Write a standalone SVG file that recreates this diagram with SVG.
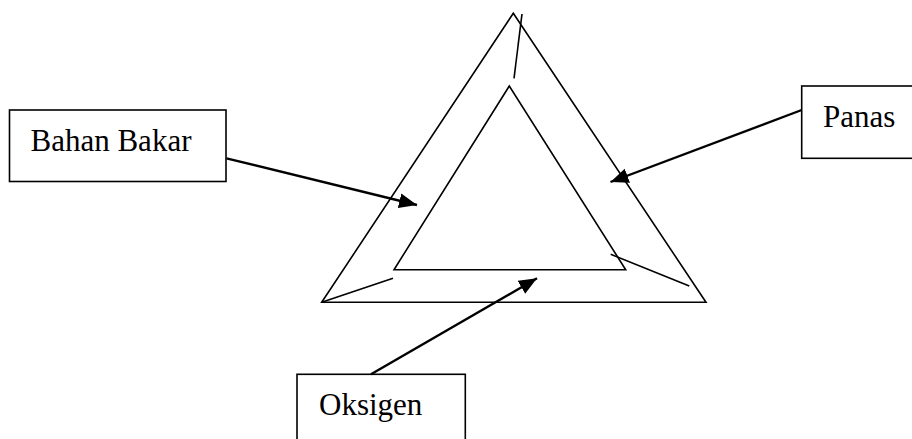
<svg xmlns="http://www.w3.org/2000/svg" width="912" height="439" viewBox="0 0 912 439">
<style>
.box{fill:#fff;stroke:#000;stroke-width:1.6}
.lbl{font-family:"Liberation Serif","Times New Roman",serif;font-size:31px;fill:#000}
.tri{fill:none;stroke:#000;stroke-width:1.6;stroke-linejoin:miter}
.ln{fill:none;stroke:#000;stroke-width:1.6}
.arr{fill:none;stroke:#000;stroke-width:2.4;marker-end:url(#ah)}
</style>
<defs>
<marker id="ah" markerUnits="userSpaceOnUse" markerWidth="19" markerHeight="16" refX="18" refY="7.5" orient="auto">
<path d="M0,0 L18,7.5 L0,15 z" fill="#000"/>
</marker>
</defs>
<rect width="912" height="439" fill="#fff"/>
<g id="triangle">
<polygon class="tri" points="513.3,13.3 321.7,302.3 706,302.3"/>
<polygon class="tri" points="509.3,86 394,269.7 625.7,269.7"/>
<line class="ln" x1="522" y1="14" x2="514" y2="78.3"/>
<line class="ln" x1="321.7" y1="302.3" x2="393" y2="278.3"/>
<line class="ln" x1="610.7" y1="254.3" x2="689.3" y2="286"/>
</g>
<g id="bahan-bakar">
<rect class="box" x="9.5" y="110" width="216.5" height="71.5"/>
<text class="lbl" x="30.5" y="151">Bahan Bakar</text>
</g>
<g id="panas">
<rect class="box" x="801.7" y="86" width="130" height="72.3"/>
<text class="lbl" x="823" y="127">Panas</text>
</g>
<g id="oksigen">
<rect class="box" x="297" y="374.3" width="168.3" height="90"/>
<text class="lbl" x="319" y="415">Oksigen</text>
</g>
<g id="connectors">
<line class="arr" x1="226.5" y1="158.3" x2="417" y2="205"/>
<line class="arr" x1="801.7" y1="110" x2="610.5" y2="182"/>
<line class="arr" x1="371" y1="374.3" x2="537" y2="278.3"/>
</g>
</svg>
